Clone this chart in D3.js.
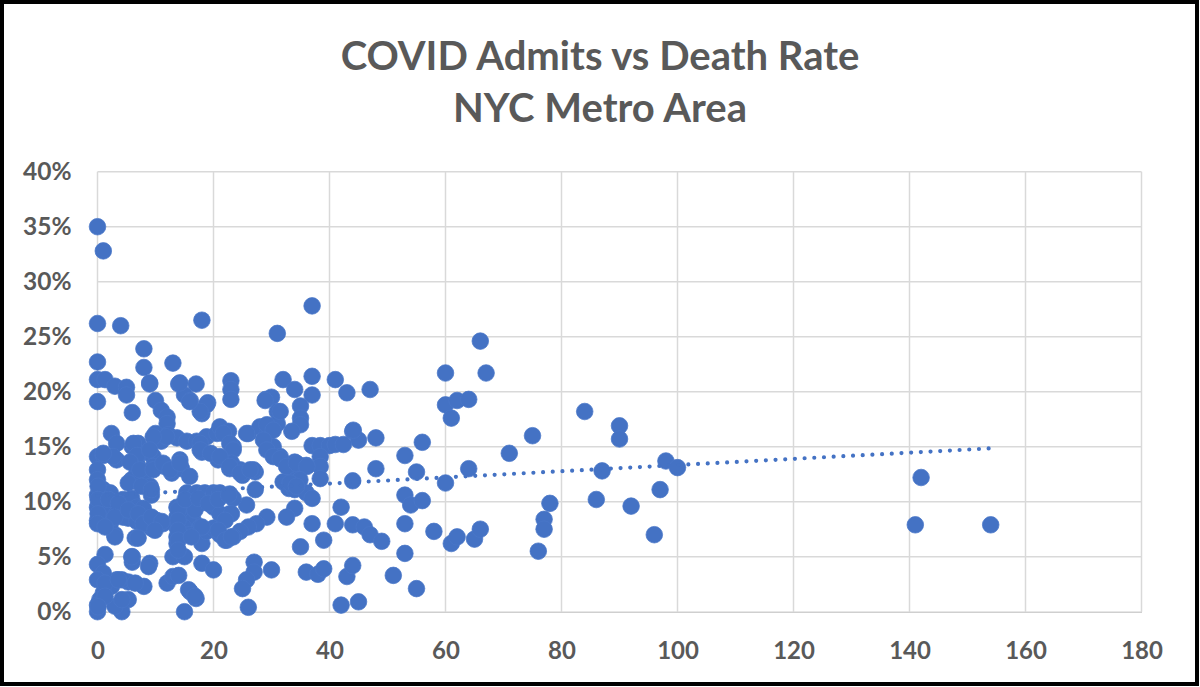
<!DOCTYPE html>
<html>
<head>
<meta charset="utf-8">
<script src="https://cdn.jsdelivr.net/npm/d3@7/dist/d3.min.js"></script>
<style>
  html, body { margin: 0; padding: 0; background: #fff; }
  svg { display: block; }
</style>
</head>
<body>
<svg id="chart" width="1200" height="687"></svg>
<script>
const titleLines = ["COVID Admits vs Death Rate", "NYC Metro Area"];
const xTicks = [0, 20, 40, 60, 80, 100, 120, 140, 160, 180];
const yTicks = [0, 5, 10, 15, 20, 25, 30, 35, 40];

// [admits, death rate %]
const points = [
  [0,35.0],[1,32.8],[0,26.2],[4,26.0],[18,26.5],[31,25.3],[37,27.8],
  [8,23.9],[8,22.2],[13,22.6],[0,22.7],
  [0,21.1],[1.3,21.1],[3,20.5],[5,20.4],[5,19.7],[9,20.7],[14,20.7],[17,20.7],[15,19.7],
  [23,21.0],[23,20.2],[23,19.3],[19,19.0],[29,19.3],[30,19.5],[10,19.2],[0,19.1],
  [32,21.1],[34,20.2],[37,21.4],[37,19.7],[41,21.1],[43,19.9],[47,20.2],
  [6,18.1],[11,18.3],[12,17.7],[12,17.1],[16,19.2],[18,18.0],[18.8,18.8],[17.7,18.2],
  [31,18.2],[31,17.1],[35,18.7],[35,17.6],[35,17.0],[33.5,16.4],
  [44,16.4],[45,15.6],[48,15.8],
  [37,15.1],[38.4,15.1],[40,15.1],[41,15.2],[42.4,15.2],[38.4,14.1],[38.4,13.2],[38.4,12.1],
  [48,13.0],[44,11.9],
  [34,13.6],[34,12.7],[35,13.0],[36,13.3],[32,11.8],[33,11.2],[34,11.1],[36,10.8],[37,10.3],
  [34,9.4],[32.6,8.6],[37,8.0],[41,8.0],[39,6.5],[35,5.9],[44,7.9],[46,7.7],[47,7.0],[49,6.4],[42,9.5],
  [36,3.6],[38,3.4],[39,3.9],[43,3.2],[44,4.2],[42,0.6],[45,0.9],[51,3.3],
  [30,3.8],[27,4.5],[27,3.6],[25.7,2.9],[25,2.1],[26,0.4],
  [18,4.4],[20,3.8],[16,1.8],[17,1.2],[15,0.0],
  [12,2.6],[13,3.2],[14,3.3],[13,5.0],[15,5.0],
  [9,4.4],[6,5.0],[6,4.5],[8,2.3],[5.3,2.7],[4.2,2.9],[3.3,2.9],[2.4,2.3],[1,1.7],[0.4,1.1],
  [0,0.6],[5.3,1.1],[4.2,0.0],[3,0.5],[0,0.0],[1.3,5.2],[0,4.3],[1,3.5],[0,2.9],[1.3,2.6],
  [6.5,6.7],[3,7.0],[18,6.2],
  [0,14.1],[1,14.2],[2.4,16.2],[3.3,15.3],[3.3,13.8],[6,15.0],[7,15.3],[8.5,14.5],[10,16.2],[11,15.5],
  [12.2,16.1],[13.7,15.8],[15.4,15.5],[17.1,15.5],[18.8,15.9],[20.6,16.2],[18,14.5],[21.1,16.8],[22.6,16.4],[23.4,15.0],
  [20.8,13.8],[22.8,13.0],[25,12.4],[27.2,12.7],[26,16.2],[28,16.8],[29.2,16.1],[29.2,15.3],[30.3,15.0],[31.5,14.1],
  [27.2,11.1],[25.7,9.7],[29.2,8.6],[27.4,8.0],[26,7.7],[24.6,7.3],[22.8,8.9],[22.3,6.5],[23.4,6.8],
  [15.4,10.8],[17.1,10.8],[18.5,10.8],[20,10.8],[21.1,10.8],[22.8,10.7],[23.4,10.3],
  [13.7,9.5],[13.7,8.6],[13.7,7.7],[13.7,6.8],[13.7,6.2],[15.4,8.9],[16.5,8.3],[17.7,7.7],[18.8,7.3],[20,7.6],[21.1,7.0],
  [17.7,9.85],[16.8,9.25],[20,9.5],[21.1,8.9],[14.8,7.7],[15.9,7.0],
  [12.8,12.6],[14.5,13.0],[15.9,12.3],[11.6,13.2],[14.2,13.8],[9.6,14.1],[9.6,13.2],
  [6.8,13.5],[6.8,12.6],[7.9,12.0],[9.1,11.4],[9.3,10.6],[5.9,12.0],
  [0,12.9],[0,12.0],[1,11.1],[2.2,10.8],[2.7,10.0],[0,10.6],[0,9.5],[0,8.3],
  [4.4,10.2],[5.9,10.3],[6.8,9.5],[7.9,9.4],
  [1.9,9.25],[3.3,8.9],[4.4,8.6],[5.3,8.5],[6.8,8.2],[8.5,8.0],[10.2,8.3],[11.3,8.0],
  [2.2,8.0],[6.9,6.7],[9.3,7.6],
  [21.7,16.2],[22.8,15.3],[23.4,14.7],[23.1,13.5],[24.6,12.9],[26.9,12.9],
  [17.7,15.3],[11.9,15.9],[9.6,15.9],[14.2,20.8],[15.9,19.1],[9,20.8],
  [2.7,14.1],[1,14.4],[6.2,15.3],[6.8,14.2],[5.6,13.6],[9,14.7],[7.3,12.9],[9.6,12.9],[11.3,13.5],[12.5,12.9],[14.2,13.5],
  [17.7,14.7],[19.5,14.4],[21.1,14.1],[22.8,13.2],[24.6,12.6],[26.3,12.9],
  [25.7,16.2],[29.2,17.0],[30.3,16.5],[28.6,15.6],[29.2,14.7],[30.3,14.1],[31.5,13.9],
  [32.6,13.2],[34.3,13.5],[36.1,13.2],[34.9,12.0],[33.2,11.7],[34.3,11.4],
  [31.5,18.2],[28.9,19.2],[44.1,16.5],
  [0.1,11.4],[0.1,10.2],[0.1,8.9],[0,8.0],[1.9,10.2],[3.6,9.85],[3,8.6],[5.3,9.25],[7,8.9],[7.9,8.0],
  [9.3,8.6],[11.1,8.2],[9.9,7.4],[7,6.7],[3,6.8],[1.3,7.7],[5.3,11.7],[7.6,11.4],[9.3,11.1],
  [13.9,9.25],[13.9,8.3],[13.9,7.4],[13.9,6.5],[13.9,5.6],
  [15.1,10.2],[17.4,10.3],[19.1,9.85],[20.8,10.2],[22.6,10.6],[23.1,8.9],[22,8.3],[20.8,7.4],[22,6.5],[23.1,6.8],
  [18,7.7],[16.2,6.8],[5.9,5.0],[8.8,4.1],[3.6,2.9],[6.5,2.6],[1.3,1.4],[0.1,0.45],[4.2,1.1],
  [15.7,2.0],[16.8,1.4],
  [66,24.6],[60,21.7],[67,21.7],[60,18.8],[62,19.2],[64,19.3],[61,17.6],
  [56,15.4],[53,14.2],[55,12.7],[60,11.7],[64,13.0],[71,14.4],[75,16.0],[84,18.2],[90,16.9],[90,15.7],[87,12.8],[98,13.7],[100,13.1],
  [53,10.6],[54,9.7],[56,10.1],[53,8.0],[58,7.3],[61,6.2],[62,6.8],[65,6.6],[66,7.5],[53,5.3],[55,2.1],
  [78,9.85],[77,8.4],[77,7.5],[76,5.5],[86,10.2],[92,9.6],[97,11.1],[96,7.0],
  [142,12.2],[141,7.9],[154,7.9]
];

// dotted linear trendline, end values
const trendAdmits = [0, 154];
const trendRate = [10.52, 14.85];

const width = 1200;
const height = 687;
const margin = { top: 171.7, right: 58.5, bottom: 75.3, left: 97.5 };
const textColor = "#595959";
const gridColor = "#d9d9d9";
const dotColor = "#4472c4";
const font = "Lato, 'Open Sans', sans-serif";

const svg = d3.select("#chart");

svg.append("rect")
  .attr("width", width)
  .attr("height", height)
  .attr("fill", "#fff");

const x = d3.scaleLinear()
  .domain([0, 180])
  .range([margin.left, width - margin.right]);

const y = d3.scaleLinear()
  .domain([0, 40])
  .range([height - margin.bottom, margin.top]);

// gridlines
svg.append("g")
  .selectAll("line")
  .data(yTicks.filter((d) => d > 0))
  .join("line")
  .attr("x1", x(0))
  .attr("x2", x(180))
  .attr("y1", (d) => y(d))
  .attr("y2", (d) => y(d))
  .attr("stroke", gridColor)
  .attr("stroke-width", 1.5);

svg.append("g")
  .selectAll("line")
  .data(xTicks)
  .join("line")
  .attr("x1", (d) => x(d))
  .attr("x2", (d) => x(d))
  .attr("y1", y(0))
  .attr("y2", y(40))
  .attr("stroke", gridColor)
  .attr("stroke-width", 1.5);

// x axis
const xAxis = svg.append("g")
  .attr("transform", `translate(0,${y(0)})`)
  .call(d3.axisBottom(x).tickValues(xTicks).tickSize(0).tickPadding(30));
xAxis.select(".domain").attr("stroke", "#cfcfcf").attr("stroke-width", 1.5);
xAxis.selectAll("text")
  .attr("fill", textColor)
  .attr("font-family", font)
  .attr("font-weight", "bold")
  .attr("font-size", 24);

// y axis
const yAxis = svg.append("g")
  .attr("transform", `translate(${x(0)},0)`)
  .call(d3.axisLeft(y).tickValues(yTicks).tickSize(0).tickPadding(26)
    .tickFormat((d) => d + "%"));
yAxis.select(".domain").remove();
yAxis.selectAll("text")
  .attr("fill", textColor)
  .attr("font-family", font)
  .attr("font-weight", "bold")
  .attr("font-size", 24.5);

// points
svg.append("g")
  .selectAll("circle")
  .data(points)
  .join("circle")
  .attr("cx", (d) => x(d[0]))
  .attr("cy", (d) => y(d[1]))
  .attr("r", 8.3)
  .attr("fill", dotColor)
  .attr("stroke", "#4a77c8")
  .attr("stroke-width", 0.75);

// trendline
const trend = d3.line()
  .x((d) => x(d[0]))
  .y((d) => y(d[1]));

svg.append("path")
  .datum(trendAdmits.map((v, i) => [v, trendRate[i]]))
  .attr("d", trend)
  .attr("fill", "none")
  .attr("stroke", dotColor)
  .attr("stroke-width", 4.2)
  .attr("stroke-linecap", "round")
  .attr("stroke-dasharray", "0 9.7");

// title
svg.append("g")
  .selectAll("text")
  .data(titleLines)
  .join("text")
  .attr("x", width / 2)
  .attr("y", (_, i) => 70 + i * 52)
  .attr("text-anchor", "middle")
  .attr("fill", textColor)
  .attr("font-family", font)
  .attr("font-weight", "bold")
  .attr("font-size", 40)
  .text((d) => d);

// outer frame
svg.append("rect")
  .attr("x", 2)
  .attr("y", 2)
  .attr("width", width - 5)
  .attr("height", height - 5)
  .attr("fill", "none")
  .attr("stroke", "#000")
  .attr("stroke-width", 4);
</script>
</body>
</html>
